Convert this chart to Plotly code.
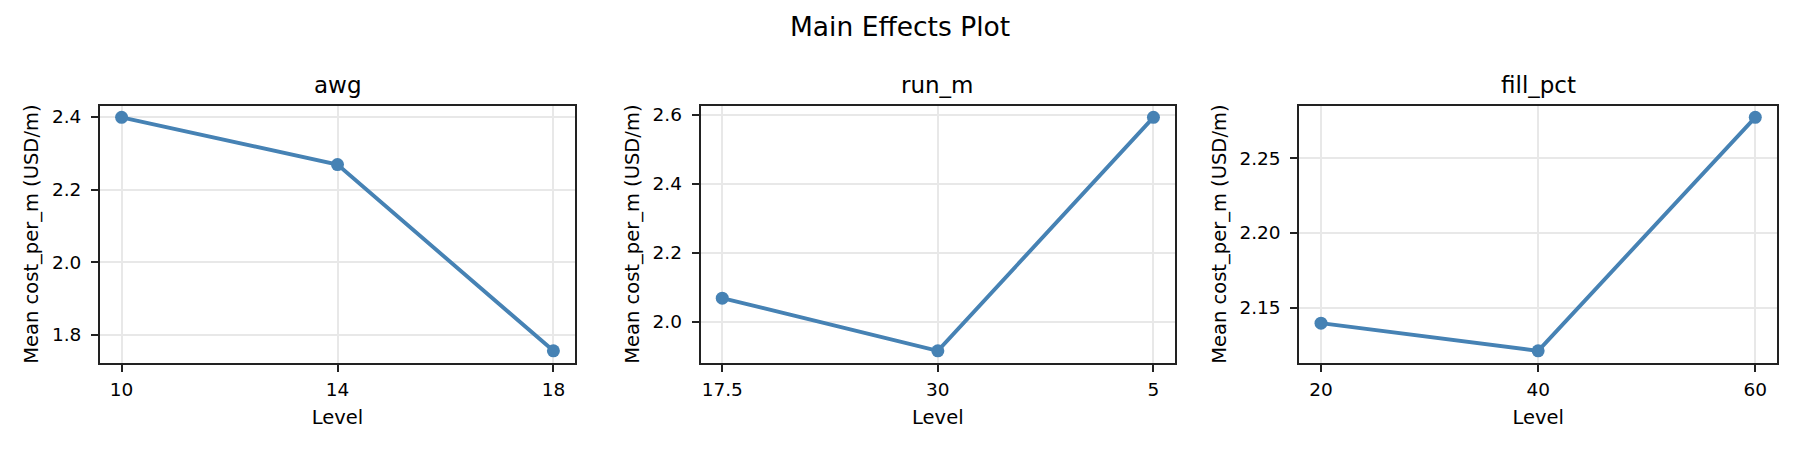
import plotly.graph_objects as go

# ---- data ----
factors = ["awg", "run_m", "fill_pct"]
awg_levels = ["10", "14", "18"]
awg_means = [2.399, 2.269, 1.756]
run_levels = ["17.5", "30", "5"]
run_means = [2.068, 1.915, 2.593]
fill_levels = ["20", "40", "60"]
fill_means = [2.1396, 2.1211, 2.2772]
awg_ticks = [1.8, 2.0, 2.2, 2.4]
run_ticks = [2.0, 2.2, 2.4, 2.6]
fill_ticks = [2.15, 2.20, 2.25]

panels = [
    (awg_levels, awg_means, awg_ticks, "{:.1f}"),
    (run_levels, run_means, run_ticks, "{:.1f}"),
    (fill_levels, fill_means, fill_ticks, "{:.2f}"),
]

# the page body has an 8px margin; lay the figure out in window pixels minus it
OFF = 8
W, H = 1800 - OFF, 450 - OFF
FONT = "DejaVu Sans"
COLOR = "#4682B4"

x_px = [(100 - OFF, 575 - OFF), (700.7 - OFF, 1175 - OFF), (1299.3 - OFF, 1777 - OFF)]
y_top, y_bot = 105.7 - OFF, 362.5 - OFF
ydom = [(H - y_bot) / H, (H - y_top) / H]

fig = go.Figure()
layout = dict(
    width=W, height=H,
    margin=dict(l=0, r=0, t=0, b=0),
    paper_bgcolor="white", plot_bgcolor="white",
    showlegend=False,
    font=dict(family=FONT, color="black", size=18.5),
)
annotations = []

for i, (levels, means, ticks, fmt) in enumerate(panels):
    n = i + 1
    xa = "x" if n == 1 else f"x{n}"
    ya = "y" if n == 1 else f"y{n}"
    fig.add_trace(go.Scatter(
        x=levels, y=means, xaxis=xa, yaxis=ya,
        mode="lines+markers",
        line=dict(color=COLOR, width=3.9),
        marker=dict(color=COLOR, size=13),
        hoverinfo="x+y",
    ))
    mn, mx = min(means), max(means)
    pad = 0.05 * (mx - mn)
    common = dict(
        showline=True, linecolor="#222222", linewidth=2, mirror=True,
        showgrid=True, gridcolor="#e8e8e8", gridwidth=1.5,
        ticks="outside", ticklen=7, tickwidth=1.5, tickcolor="#222222",
        tickfont=dict(family=FONT, size=18.5, color="black"),
        zeroline=False,
    )
    x0, x1 = x_px[i]
    layout["xaxis" if n == 1 else f"xaxis{n}"] = dict(
        common,
        domain=[x0 / W, x1 / W],
        anchor=ya,
        type="category",
        categoryorder="array", categoryarray=levels,
        range=[-0.1, len(levels) - 0.9],
        ticklabelstandoff=2,
        title=dict(text="Level", font=dict(family=FONT, size=19.5), standoff=12),
    )
    layout["yaxis" if n == 1 else f"yaxis{n}"] = dict(
        common,
        domain=ydom,
        anchor=xa,
        range=[mn - pad, mx + pad],
        tickvals=ticks,
        ticktext=[fmt.format(t) for t in ticks],
        ticklabelstandoff=6,
        title=dict(text="Mean cost_per_m (USD/m)", font=dict(family=FONT, size=19.5), standoff=8),
    )
    annotations.append(dict(
        text=factors[i], xref="paper", yref="paper",
        x=(x0 + x1) / 2 / W, y=(H - (84.6 - OFF)) / H,
        xanchor="center", yanchor="middle", showarrow=False,
        font=dict(family=FONT, size=23, color="black"),
    ))

annotations.append(dict(
    text="Main Effects Plot", xref="paper", yref="paper",
    x=(900 - OFF) / W, y=1, yshift=-1, xanchor="center", yanchor="top",
    showarrow=False, font=dict(family=FONT, size=26.5, color="black"),
))
layout["annotations"] = annotations
fig.update_layout(**layout)
fig.write_html("out.html")
